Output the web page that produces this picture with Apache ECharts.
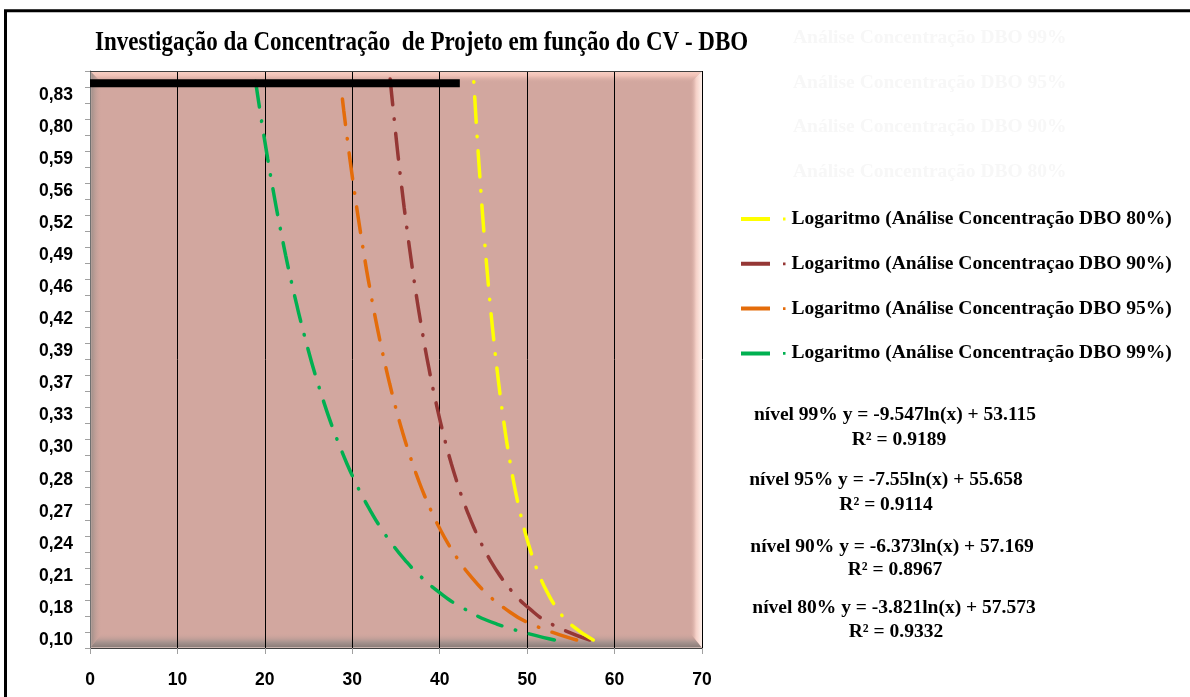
<!DOCTYPE html>
<html>
<head>
<meta charset="utf-8">
<script src="https://cdn.jsdelivr.net/npm/echarts@6/dist/echarts.min.js"></script>
<style>html,body{margin:0;padding:0;background:#fff;}#c{width:1190px;height:697px;}</style>
</head>
<body>
<div id="c"></div>
<script>
// ---- data ----
const titleText = 'Investigação da Concentração  de Projeto em função do CV - DBO';
const yTickLabels = ['0,10','0,18','0,21','0,24','0,27','0,28','0,30','0,33','0,37','0,39','0,42','0,46','0,49','0,52','0,56','0,59','0,80','0,83'];
const categoryIndex = [1,2,3,4,5,6,7,8,9,10,11,12,13,14,15,16,17,18,19,20,21,22,23,24,25,26,27,28,29,30,31,32,33,34,35,36];
const seriesNames = [
  'Logaritmo (Análise Concentração DBO 80%)',
  'Logaritmo (Análise Concentraçao DBO 90%)',
  'Logaritmo (Análise Concentração DBO 95%)',
  'Logaritmo (Análise Concentração DBO 99%)'
];
const dbo80 = [57.57,54.92,53.38,52.28,51.42,50.73,50.14,49.63,49.18,48.77,48.41,48.08,47.77,47.49,47.23,46.98,46.75,46.53,46.32,46.13,45.94,45.76,45.59,45.43,45.27,45.12,44.98,44.84,44.71,44.58,44.45,44.33,44.21,44.10,43.99,43.88];
const dbo90 = [57.17,52.75,50.17,48.33,46.91,45.75,44.77,43.92,43.17,42.49,41.89,41.33,40.82,40.35,39.91,39.50,39.11,38.75,38.40,38.08,37.77,37.47,37.19,36.92,36.66,36.41,36.17,35.93,35.71,35.49,35.28,35.08,34.89,34.70,34.51,34.33];
const dbo95 = [55.66,50.43,47.36,45.19,43.51,42.13,40.97,39.96,39.07,38.27,37.55,36.90,36.29,35.73,35.21,34.73,34.27,33.84,33.43,33.04,32.67,32.32,31.99,31.66,31.36,31.06,30.78,30.50,30.24,29.98,29.73,29.49,29.26,29.03,28.82,28.60];
const dbo99 = [53.12,46.50,42.63,39.88,37.75,36.01,34.54,33.26,32.14,31.13,30.22,29.39,28.63,27.92,27.26,26.65,26.07,25.52,25.01,24.52,24.05,23.61,23.18,22.77,22.38,22.01,21.65,21.30,20.97,20.64,20.33,20.03,19.73,19.45,19.17,18.90];
const barLevel = [35.73];
const barValue = [42.3];
const equationLabels = [
  'nível 99% y = -9.547ln(x) + 53.115',
  'nível 95% y = -7.55ln(x) + 55.658',
  'nível 90% y = -6.373ln(x) + 57.169',
  'nível 80% y = -3.821ln(x) + 57.573'
];
const r2Labels = ['R² = 0.9189','R² = 0.9114','R² = 0.8967','R² = 0.9332'];
const ghostLabels = ['Análise Concentração DBO 99%','Análise Concentração DBO 95%','Análise Concentração DBO 90%','Análise Concentração DBO 80%'];

// ---- layout ----
const G = {left: 90, top: 71, width: 612, height: 577};
const colors = ['#FFFF00', '#953735', '#E46C0A', '#00B050'];
const dataSets = [dbo80, dbo90, dbo95, dbo99];
const serif = '"Liberation Serif", "DejaVu Serif", serif';

function mkSeries(i) {
  return {
    name: seriesNames[i],
    type: 'line',
    smooth: true,
    showSymbol: false,
    symbol: 'none',
    silent: true,
    color: colors[i],
    z: 2 + (3 - i) * 0.1,
    lineStyle: {color: colors[i], width: 3.5, type: [26, 14, 0.5, 14], cap: 'round'},
    data: dataSets[i].map((v, k) => [v, categoryIndex[k]])
  };
}

const L = G.left, T = G.top, R = G.left + G.width, B = G.top + G.height, bw = 12;
const base = '#D2A79F';
function lg(x1, y1, x2, y2, stops) {
  return {type: 'linear', x: x1, y: y1, x2: x2, y2: y2, global: false,
    colorStops: stops.map(s => ({offset: s[0], color: s[1]}))};
}
const graphics = [
  {type: 'rect', z: -10, silent: true, shape: {x: L, y: T, width: G.width, height: G.height}, style: {fill: base}},
  {type: 'polygon', z: -9, silent: true, shape: {points: [[L, T], [R, T], [R - bw, T + bw], [L + bw, T + bw]]},
    style: {fill: lg(0, 0, 0, 1, [[0, '#FAD2C6'], [0.4, '#F0C1B6'], [1, 'rgba(210,167,159,0)']])}},
  {type: 'polygon', z: -9, silent: true, shape: {points: [[R, T], [R, B], [R - bw, B - bw - 3], [R - bw, T + bw]]},
    style: {fill: lg(0, 0, 1, 0, [[0, 'rgba(210,167,159,0)'], [0.5, '#F4CFC6'], [1, '#FFF0EA']])}},
  {type: 'polygon', z: -9, silent: true, shape: {points: [[L, B], [R, B], [R - bw, B - bw - 3], [L + bw, B - bw - 3]]},
    style: {fill: lg(0, 0, 0, 1, [[0, 'rgba(210,167,159,0)'], [0.6, '#A8948F'], [0.9, '#8E807C'], [1, '#E8CFC8']])}},
  {type: 'polygon', z: -9, silent: true, shape: {points: [[L, T], [L + bw, T + bw], [L + bw, B - bw - 3], [L, B]]},
    style: {fill: lg(0, 0, 1, 0, [[0, '#EED3CC'], [0.15, '#A5928C'], [1, 'rgba(210,167,159,0)']])}},
  {type: 'line', z: 5, silent: true, shape: {x1: L, y1: T + 0.5, x2: R, y2: T + 0.5}, style: {stroke: '#404040', lineWidth: 1}},
  {type: 'rect', z: 10, silent: true, shape: {x: 5.5, y: 10.8, width: 1400, height: 900}, style: {fill: null, stroke: '#000', lineWidth: 3}},
  {type: 'text', x: 95, y: 43, scaleX: 0.868, scaleY: 1, style: {text: titleText, fill: '#000', font: 'bold 26.5px ' + serif, textAlign: 'left', textVerticalAlign: 'middle'}}
];
const eqPos = [[895, 415, 899, 440], [886, 480, 886, 505], [892, 547, 895, 570], [894, 608, 896, 632]];
equationLabels.forEach((t, i) => {
  graphics.push({type: 'text', x: eqPos[i][0], y: eqPos[i][1], style: {text: t, fill: '#000', font: 'bold 19.5px ' + serif, textAlign: 'center', textVerticalAlign: 'middle'}});
  graphics.push({type: 'text', x: eqPos[i][2], y: eqPos[i][3], style: {text: r2Labels[i], fill: '#000', font: 'bold 19.5px ' + serif, textAlign: 'center', textVerticalAlign: 'middle'}});
});
const ghostY = [38, 83, 127, 172];
ghostLabels.forEach((t, i) => {
  graphics.push({type: 'text', x: 793, y: ghostY[i], silent: true, style: {text: t, fill: '#F7F7F7', font: 'bold 19.5px ' + serif, textAlign: 'left', textVerticalAlign: 'middle'}});
});

const chart = echarts.init(document.getElementById('c'), null, {renderer: 'canvas'});
chart.setOption({
  animation: false,
  backgroundColor: '#fff',
  legend: {
    orient: 'vertical', left: 736, top: 204,
    data: seriesNames,
    icon: 'path://M0,0L29,0L29,4L0,4Z M42,0.6L44.5,0.6L44.5,3.4L42,3.4Z',
    itemWidth: 44.5, itemHeight: 4, itemGap: 24.8,
    selectedMode: false,
    textStyle: {fontFamily: serif, fontWeight: 'bold', fontSize: 19.5, color: '#000', lineHeight: 20, padding: [0, 0, 0, 1]}
  },
  grid: {left: G.left, top: G.top, width: G.width, height: G.height, containLabel: false},
  xAxis: {
    type: 'value', min: 0, max: 70, interval: 10,
    axisLine: {show: true, onZero: false, lineStyle: {color: '#404040', width: 1}},
    axisTick: {show: true, length: 6, lineStyle: {color: '#A0A0A0'}},
    splitLine: {show: true, lineStyle: {color: '#000', width: 1}},
    axisLabel: {margin: 23, color: '#000', fontFamily: '"Liberation Sans", Arial, sans-serif', fontWeight: 'bold', fontSize: 17.5}
  },
  yAxis: {
    type: 'value', min: 0.5, max: 36.5,
    axisLine: {show: true, onZero: false, lineStyle: {color: '#707070', width: 1}},
    axisTick: {show: true, length: 5, lineStyle: {color: '#A0A0A0'},
      customValues: categoryIndex.map(n => n - 0.5).concat([categoryIndex[categoryIndex.length - 1] + 0.5])},
    splitLine: {show: false},
    axisLabel: {
      margin: 17, color: '#000', fontFamily: '"Liberation Sans", Arial, sans-serif', fontWeight: 'bold', fontSize: 17.5,
      customValues: yTickLabels.map((_, k) => categoryIndex[2 * k]),
      formatter: v => yTickLabels[Math.round((v - 1) / 2)] || ''
    }
  },
  graphic: {elements: graphics},
  series: [
    mkSeries(3), mkSeries(2), mkSeries(1), mkSeries(0),
    {
      name: 'barra', type: 'line', silent: true, showSymbol: false, symbol: 'none', z: 6,
      lineStyle: {color: '#000', width: 8, cap: 'butt'},
      data: [[0, barLevel[0]], [barValue[0], barLevel[0]]]
    }
  ]
});
</script>
</body>
</html>
